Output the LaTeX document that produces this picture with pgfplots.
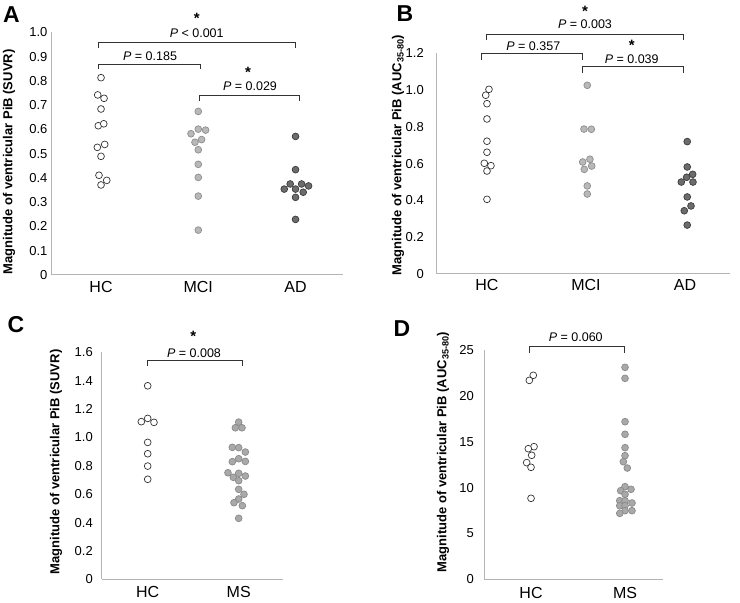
\documentclass[border=0pt]{standalone}
\usepackage{pgfplots}
\pgfplotsset{compat=1.18}
\usepackage{fontspec}
\setmainfont{Liberation Sans}
\definecolor{axgray}{HTML}{B4B4B4}
\definecolor{mcifill}{HTML}{B8B8B8}
\definecolor{mciedge}{HTML}{8E8E8E}
\definecolor{adfill}{HTML}{6C6C6C}
\definecolor{adedge}{HTML}{3C3C3C}
\definecolor{msfill}{HTML}{A9A9A9}
\definecolor{msedge}{HTML}{8A8A8A}
\definecolor{brk}{HTML}{333333}
\pgfplotsset{
  panel/.style={
    scale only axis, clip=false, anchor=south west,
    axis lines=left, axis line style={-, draw=axgray, line width=1pt},
    major tick length=0pt, tick style={draw=none},
    xtick={1,2,3},
    xticklabel style={font=\fontsize{16}{19}\selectfont},
    yticklabel style={font=\fontsize{13}{15}\selectfont},
    ylabel style={font=\bfseries\fontsize{13}{15}\selectfont, anchor=center},
  },
  hc/.style={only marks, mark=*, mark size=3.4pt, mark options={fill=white, draw=black!80, line width=0.7pt}},
  mci/.style={only marks, mark=*, mark size=3.4pt, mark options={fill=mcifill, draw=mciedge, line width=0.7pt}},
  ad/.style={only marks, mark=*, mark size=3.4pt, mark options={fill=adfill, draw=adedge, line width=0.7pt}},
  ms/.style={only marks, mark=*, mark size=3.4pt, mark options={fill=msfill, draw=msedge, line width=0.7pt}},
}
\tikzset{brkt/.style={draw=brk, line width=0.9pt},
  pv/.style={font=\fontsize{12.5}{15}\selectfont, inner sep=0pt},
  st/.style={font=\bfseries\fontsize{15}{17}\selectfont, inner sep=0pt, anchor=base},
  lt/.style={font=\bfseries\fontsize{23}{26}\selectfont, inner sep=0pt}}
\begin{document}
\begin{tikzpicture}
\path[use as bounding box] (0,0) rectangle (740pt,603pt);
% ---------------- A ----------------
\begin{axis}[panel, at={(52pt,328pt)}, width=291pt, height=242.7pt,
  xmin=0.496, xmax=3.488, ymin=0, ymax=1.0,
  xticklabels={HC,MCI,AD}, xticklabel style={yshift=-3.2pt},
  ytick={0,0.1,0.2,0.3,0.4,0.5,0.6,0.7,0.8,0.9,1.0},
  yticklabels={0,0.1,0.2,0.3,0.4,0.5,0.6,0.7,0.8,0.9,1.0},
  yticklabel style={xshift=-1pt},
  ylabel={Magnitude of ventricular PiB (SUVR)},
  ylabel style={at={(rel axis cs:-0.148,0.466)}}]
\addplot[hc] coordinates {(1.000,0.813) (0.966,0.742) (1.031,0.728) (1.000,0.684) (0.972,0.615) (1.028,0.623) (0.962,0.526) (1.038,0.538) (1.000,0.489) (0.979,0.411) (1.059,0.390) (1.000,0.371)};
\addplot[mci] coordinates {(2.000,0.674) (2.000,0.601) (1.925,0.582) (2.075,0.597) (1.966,0.547) (2.034,0.558) (2.000,0.516) (2.000,0.456) (2.000,0.402) (2.000,0.325) (2.000,0.185)};
\addplot[ad] coordinates {(3.000,0.571) (3.000,0.434) (2.945,0.375) (3.062,0.375) (3.134,0.367) (2.884,0.354) (3.000,0.354) (3.079,0.341) (3.000,0.320) (3.000,0.229)};
\draw[brkt] (axis cs:0.969,0.935) |- (axis cs:2.995,0.959) -- (axis cs:2.995,0.935);
\draw[brkt] (axis cs:0.969,0.847) |- (axis cs:2.018,0.869) -- (axis cs:2.018,0.847);
\draw[brkt] (axis cs:2.008,0.715) |- (axis cs:3.036,0.739) -- (axis cs:3.036,0.715);
\node[pv] at (axis cs:1.984,0.998) {\textit{P} < 0.001};
\node[st] at (axis cs:1.984,1.036) {*};
\node[pv] at (axis cs:1.504,0.900) {\textit{P} = 0.185};
\node[pv] at (axis cs:2.532,0.777) {\textit{P} = 0.029};
\node[st] at (axis cs:2.512,0.813) {*};
\end{axis}
% ---------------- B ----------------
\begin{axis}[panel, at={(436.7pt,329pt)}, width=293.3pt, height=220.7pt,
  xmin=0.492, xmax=3.455, ymin=0, ymax=1.2,
  xticklabels={HC,MCI,AD}, xticklabel style={yshift=-1.7pt},
  ytick={0,0.2,0.4,0.6,0.8,1.0,1.2},
  yticklabels={0,0.2,0.4,0.6,0.8,1.0,1.2},
  yticklabel style={xshift=-9.4pt},
  ylabel={Magnitude of ventricular PiB (AUC\textsubscript{35-80})},
  ylabel style={at={(rel axis cs:-0.132,0.539)}}]
\addplot[hc] coordinates {(1.020,1.004) (0.987,0.972) (1.000,0.926) (1.000,0.843) (1.000,0.722) (1.000,0.662) (0.973,0.602) (1.040,0.589) (1.000,0.560) (1.000,0.406)};
\addplot[mci] coordinates {(2.013,1.026) (1.980,0.788) (2.054,0.787) (1.967,0.609) (2.040,0.624) (1.983,0.569) (2.058,0.587) (2.013,0.479) (2.013,0.435)};
\addplot[ad] coordinates {(3.023,0.720) (3.023,0.582) (3.078,0.542) (3.017,0.526) (2.963,0.500) (3.081,0.500) (3.023,0.419) (3.061,0.370) (2.993,0.344) (3.023,0.266)};
\draw[brkt] (axis cs:0.990,1.272) |- (axis cs:2.983,1.303) -- (axis cs:2.983,1.272);
\draw[brkt] (axis cs:0.946,1.164) |- (axis cs:1.960,1.200) -- (axis cs:1.960,1.164);
\draw[brkt] (axis cs:1.960,1.095) |- (axis cs:2.983,1.127) -- (axis cs:2.983,1.095);
\node[pv] at (axis cs:1.990,1.356) {\textit{P} = 0.003};
\node[st] at (axis cs:1.990,1.402) {*};
\node[pv] at (axis cs:1.468,1.236) {\textit{P} = 0.357};
\node[pv] at (axis cs:2.462,1.167) {\textit{P} = 0.039};
\node[st] at (axis cs:2.462,1.215) {*};
\end{axis}
% ---------------- C ----------------
\begin{axis}[panel, at={(101.7pt,23.7pt)}, width=181.6pt, height=227pt,
  xmin=0.4945, xmax=2.49, ymin=0, ymax=1.6,
  xtick={1,2}, xticklabels={HC,MS}, xticklabel style={yshift=-3pt},
  ytick={0,0.2,0.4,0.6,0.8,1.0,1.2,1.4,1.6},
  yticklabels={0,0.2,0.4,0.6,0.8,1.0,1.2,1.4,1.6},
  yticklabel style={xshift=-5.4pt},
  ylabel={Magnitude of ventricular PiB (SUVR)},
  ylabel style={at={(rel axis cs:-0.252,0.517)}}]
\addplot[hc] coordinates {(1.000,1.364) (1.000,1.134) (0.930,1.111) (1.069,1.106) (1.000,0.965) (1.000,0.885) (1.000,0.798) (1.000,0.705)};
\addplot[ms] coordinates {(2.000,1.108) (1.963,1.068) (2.036,1.068) (1.930,0.930) (2.000,0.928) (2.073,0.897) (1.930,0.829) (2.000,0.850) (2.073,0.831) (1.882,0.751) (1.941,0.719) (2.000,0.747) (2.073,0.728) (2.000,0.695) (2.000,0.634) (2.058,0.599) (2.000,0.566) (1.948,0.540) (2.040,0.519) (2.000,0.430)};
\draw[brkt] (axis cs:1.000,1.503) |- (axis cs:2.040,1.545) -- (axis cs:2.040,1.503);
\node[pv] at (axis cs:1.509,1.593) {\textit{P} = 0.008};
\node[st] at (axis cs:1.501,1.679) {*};
\end{axis}
% ---------------- D ----------------
\begin{axis}[panel, at={(484.3pt,23.7pt)}, width=178.7pt, height=229.3pt,
  xmin=0.503, xmax=2.404, ymin=0, ymax=25,
  xtick={1,2}, xticklabels={HC,MS}, xticklabel style={yshift=-4.7pt},
  ytick={0,5,10,15,20,25},
  yticklabels={0,5,10,15,20,25},
  yticklabel style={xshift=-7pt},
  ylabel={Magnitude of ventricular PiB (AUC\textsubscript{35-80})},
  ylabel style={at={(rel axis cs:-0.231,0.555)}}]
\addplot[hc] coordinates {(1.024,22.24) (0.982,21.69) (1.032,14.46) (0.971,14.24) (1.007,13.52) (0.954,12.72) (1.000,12.21) (1.000,8.83)};
\addplot[ms] coordinates {(2.000,23.11) (2.000,21.91) (2.000,17.18) (2.000,15.81) (2.000,14.35) (2.000,13.48) (1.982,12.82) (2.024,12.13) (2.000,10.10) (1.954,9.66) (2.064,9.81) (2.000,9.27) (1.944,8.57) (2.000,8.57) (2.074,8.32) (1.944,8.02) (2.000,8.02) (2.074,7.48) (2.000,7.48) (1.944,7.19)};
\draw[brkt] (axis cs:0.982,24.70) |- (axis cs:1.989,25.36) -- (axis cs:1.989,24.70);
\node[pv] at (axis cs:1.476,26.38) {\textit{P} = 0.060};
\end{axis}
% panel letters
\node[lt] at (11.5pt,588.5pt) {A};
\node[lt] at (405pt,589.5pt) {B};
\node[lt] at (16pt,278pt) {C};
\node[lt] at (402pt,274.5pt) {D};
\end{tikzpicture}
\end{document}
